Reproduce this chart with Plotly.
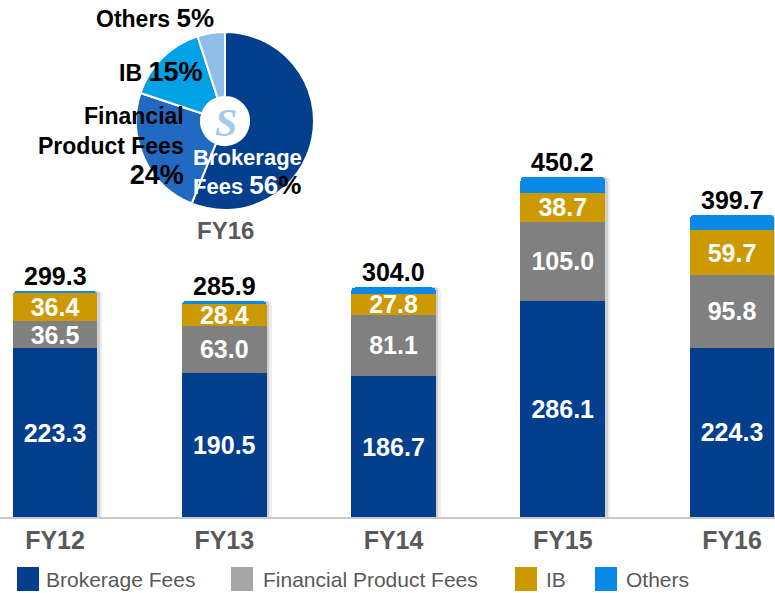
import plotly.graph_objects as go

# ---- data -------------------------------------------------------------
categories = ["FY12", "FY13", "FY14", "FY15", "FY16"]
series_names = ["Brokerage Fees", "Financial Product Fees", "IB", "Others"]
brokerage = [223.3, 190.5, 186.7, 286.1, 224.3]
financial_product = [36.5, 63.0, 81.1, 105.0, 95.8]
ib = [36.4, 28.4, 27.8, 38.7, 59.7]
others = [3.1, 4.0, 8.4, 20.4, 19.9]
totals = [299.3, 285.9, 304.0, 450.2, 399.7]
pie_year = "FY16"

# ---- styling ----------------------------------------------------------
FONT = "Liberation Sans, Arial, sans-serif"
bar_colors = ["#033f8c", "#808080", "#cc9a00", "#0a8ae6"]
swatch_colors = ["#033f8c", "#a6a6a6", "#cc9a00", "#0a8ae6"]
pie_colors = ["#033f8c", "#2169c1", "#00a1e6", "#8dbde8"]

W, H = 775, 593
PLOT_BOTTOM = 517          # pixel row of the value axis zero line
PX_PER_UNIT = 0.755        # vertical scale (pixels per unit)
BAR_PITCH = 169.25         # horizontal distance between bar centres (px)
FIRST_CENTER = 55          # pixel x of the first bar centre


def px_x(p):
    return p / W


def px_y(p):
    return (PLOT_BOTTOM - p) / PLOT_BOTTOM


xs = list(range(len(categories)))
series = [brokerage, financial_product, ib, others]

fig = go.Figure()

# soft drop shadow to the right of each column
for dx, alpha in [(5.0, 0.07), (2.5, 0.12)]:
    fig.add_trace(go.Bar(
        x=[x + dx / BAR_PITCH for x in xs], y=totals, width=0.5,
        marker=dict(color=f"rgba(0,0,0,{alpha})", line_width=0),
        showlegend=False, hoverinfo="skip",
    ))

# stacked columns
for name, vals, color in zip(series_names, series, bar_colors):
    labelled = name != "Others"
    fig.add_trace(go.Bar(
        x=xs, y=vals, name=name, width=0.5,
        marker=dict(color=color, line_width=0),
        text=[f"{v:.1f}" for v in vals] if labelled else None,
        textposition="inside" if labelled else "none",
        insidetextanchor="middle", textangle=0, constraintext="none",
        insidetextfont=dict(family=FONT, size=25, color="white", weight="bold"),
        showlegend=False,
    ))

annotations = []

# column totals
for x, t in zip(xs, totals):
    annotations.append(dict(
        x=x, y=t, xref="x", yref="y", text=f"{t:.1f}", showarrow=False,
        yanchor="bottom", yshift=-1,
        font=dict(family=FONT, size=25, color="black", weight="bold"),
    ))

# share of the latest year
pie_vals = [s[-1] for s in series]
pie_total = sum(pie_vals)
pct = [round(v / pie_total * 100) for v in pie_vals]

fig.add_trace(go.Pie(
    values=pie_vals, labels=series_names, sort=False,
    direction="clockwise", rotation=0, hole=0.27,
    marker=dict(colors=pie_colors, line=dict(color="white", width=2)),
    textinfo="none", hoverinfo="label+percent", showlegend=False,
    domain=dict(x=[px_x(136), px_x(314)], y=[px_y(210), px_y(32)]),
))

lbl = dict(family=FONT, size=23, color="black", weight="bold")
annotations += [
    dict(x=px_x(94), y=px_y(18), xref="paper", yref="paper", xanchor="left",
         yanchor="middle", showarrow=False, font=lbl,
         text=f"Others <span style='font-size:26px'>{pct[3]}%</span>"),
    dict(x=px_x(117), y=px_y(72), xref="paper", yref="paper", xanchor="left",
         yanchor="middle", showarrow=False, font=lbl,
         text=f"IB <span style='font-size:27px'>{pct[2]}%</span>"),
    dict(x=px_x(186), y=px_y(146), xref="paper", yref="paper", xanchor="right",
         yanchor="middle", showarrow=False, font=lbl, align="right",
         text=f"Financial<br>Product Fees<br><span style='font-size:27px'>{pct[1]}%</span>"),
    dict(x=px_x(191), y=px_y(172), xref="paper", yref="paper", xanchor="left",
         yanchor="middle", showarrow=False, align="left",
         font=dict(family=FONT, size=22, color="white", weight="bold"),
         text=(f"Brokerage<br>Fees <span style='font-size:26px'>{pct[0]}"
               f"<span style='color:black'>%</span></span>")),
    dict(x=px_x(225), y=px_y(230), xref="paper", yref="paper", xanchor="center",
         yanchor="middle", showarrow=False, text=pie_year,
         font=dict(family=FONT, size=24, color="#595959", weight="bold")),
    # emblem in the centre of the ring
    dict(x=px_x(226), y=px_y(123), xref="paper", yref="paper", xanchor="center",
         yanchor="middle", showarrow=False, text="<i>S</i>",
         font=dict(family="Liberation Serif, serif", size=40, color="#a3c9ec",
                   weight="bold")),
]

# legend built from swatches and labels
shapes = []
swatch_left = [17, 231, 515, 595]
text_left = [44, 261, 544, 624]
for name, col, sx, tx in zip(series_names, swatch_colors, swatch_left, text_left):
    shapes.append(dict(type="rect", xref="paper", yref="paper",
                       x0=px_x(sx), x1=px_x(sx + 22), y0=px_y(591), y1=px_y(567),
                       fillcolor=col, line_width=0))
    annotations.append(dict(x=px_x(tx), y=px_y(579), xref="paper", yref="paper",
                            xanchor="left", yanchor="middle", showarrow=False,
                            text=name, font=dict(family=FONT, size=21, color="#595959")))

x_min = -FIRST_CENTER / BAR_PITCH
x_max = (W - FIRST_CENTER) / BAR_PITCH

fig.update_layout(
    width=W, height=H,
    margin=dict(l=0, r=0, t=0, b=H - PLOT_BOTTOM, pad=0),
    barmode="stack", barcornerradius=4,
    plot_bgcolor="white", paper_bgcolor="white",
    annotations=annotations, shapes=shapes,
    xaxis=dict(range=[x_min, x_max], tickmode="array", tickvals=xs, ticktext=categories,
               showgrid=False, zeroline=False, showline=True, linecolor="#c8c8c8",
               linewidth=2, ticks="", ticklabelstandoff=0,
               tickfont=dict(family=FONT, size=25, color="#595959", weight="bold"),
               fixedrange=True),
    yaxis=dict(range=[0, PLOT_BOTTOM / PX_PER_UNIT], visible=False, fixedrange=True),
)

fig.write_html("out.html")
